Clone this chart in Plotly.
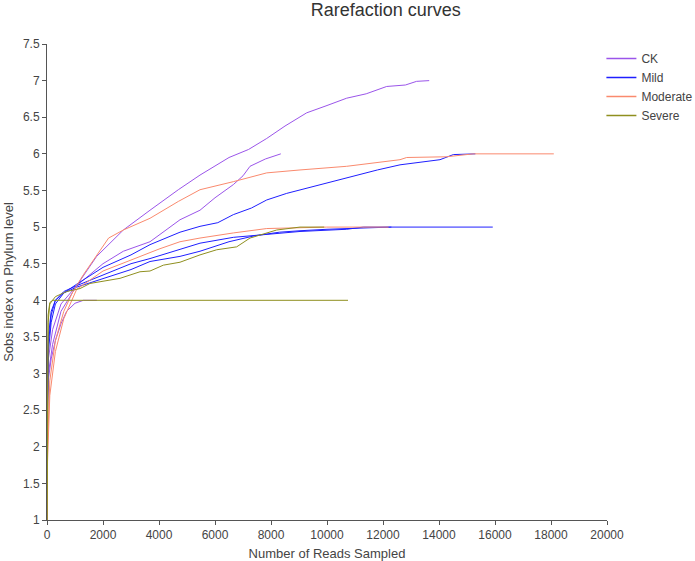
import plotly.graph_objects as go

# reads sampled / Sobs (phylum), one pair of lists per sample
ck1_x = [0, 10, 50, 200, 500, 1060, 1774, 2726, 3679, 4200, 4690, 5464, 6000, 6500, 7200, 7846, 8500, 9274, 10000, 10702, 11400, 12131, 12800, 13200, 13650]
ck1_y = [1, 2.3, 3.2, 3.6, 3.95, 4.2, 4.6, 4.96, 5.23, 5.38, 5.51, 5.71, 5.84, 5.95, 6.06, 6.21, 6.38, 6.56, 6.66, 6.76, 6.82, 6.92, 6.94, 6.99, 7.0]
ck2_x = [0, 10, 50, 200, 500, 1060, 2000, 2726, 3679, 4200, 4750, 5464, 6000, 6655, 7000, 7250, 7800, 8350]
ck2_y = [1, 2.2, 3.0, 3.4, 3.85, 4.2, 4.5, 4.67, 4.8, 4.95, 5.1, 5.23, 5.4, 5.58, 5.7, 5.83, 5.93, 6.0]
ck3_x = [0, 15, 60, 150, 300, 500, 700, 1000, 1300, 1780]
ck3_y = [1, 2.5, 2.95, 3.2, 3.45, 3.68, 3.85, 3.96, 4.0, 4.0]

mild1_x = [0, 10, 50, 150, 300, 600, 1060, 2000, 3000, 3679, 4750, 5464, 6100, 6655, 7300, 7846, 8560, 9750, 10800, 11800, 12607, 14036, 14512, 15300]
mild1_y = [1, 2.5, 3.3, 3.7, 3.95, 4.1, 4.22, 4.45, 4.62, 4.76, 4.93, 5.01, 5.06, 5.17, 5.26, 5.37, 5.46, 5.58, 5.68, 5.78, 5.85, 5.92, 5.99, 6.0]
mild2_x = [0, 10, 50, 150, 300, 600, 1060, 2000, 3000, 3679, 4750, 5464, 6655, 7846, 9036, 10702, 11300, 15920]
mild2_y = [1, 2.8, 3.5, 3.85, 4.0, 4.12, 4.2, 4.35, 4.5, 4.57, 4.69, 4.78, 4.86, 4.9, 4.94, 4.97, 5.0, 5.0]
mild3_x = [0, 10, 50, 150, 300, 600, 1060, 2000, 3000, 3679, 4750, 5464, 6500, 7400, 8300, 9036, 10000, 11500, 12300]
mild3_y = [1, 2.6, 3.4, 3.8, 4.0, 4.1, 4.18, 4.3, 4.42, 4.53, 4.6, 4.67, 4.8, 4.88, 4.93, 4.95, 4.97, 4.99, 5.0]

mod1_x = [0, 20, 100, 300, 600, 900, 1300, 1774, 2200, 2726, 3679, 4690, 5464, 6655, 7846, 9036, 10702, 12607, 12845, 14274, 15226, 18100]
mod1_y = [1, 2.0, 2.9, 3.45, 3.85, 4.1, 4.35, 4.62, 4.85, 4.96, 5.12, 5.35, 5.51, 5.62, 5.74, 5.78, 5.83, 5.92, 5.95, 5.96, 6.0, 6.0]
mod2_x = [0, 20, 100, 300, 600, 900, 1060, 2000, 3000, 4000, 4750, 5464, 6655, 7846, 9988, 12200]
mod2_y = [1, 1.8, 2.7, 3.3, 3.75, 4.0, 4.15, 4.4, 4.55, 4.7, 4.8, 4.85, 4.92, 4.98, 5.0, 5.0]

sev1_x = [0, 10, 40, 100, 300, 700, 1179, 1536, 2607, 3321, 3679, 4155, 4750, 5464, 6060, 6774, 7250, 8202, 9036, 9900]
sev1_y = [1, 2.8, 3.7, 3.95, 4.05, 4.12, 4.16, 4.23, 4.3, 4.39, 4.4, 4.48, 4.52, 4.62, 4.69, 4.73, 4.85, 4.96, 5.0, 5.0]
sev2_x = [0, 10, 40, 100, 200, 10750]
sev2_y = [1, 3.0, 3.8, 3.97, 4.0, 4.0]

groups = ['CK', 'Mild', 'Moderate', 'Severe']
colors = {'CK': '#9b55ea', 'Mild': '#1f1fff', 'Moderate': '#fa8a6e', 'Severe': '#8f8f1f'}
samples = [
    ('CK', ck1_x, ck1_y), ('CK', ck2_x, ck2_y), ('CK', ck3_x, ck3_y),
    ('Mild', mild1_x, mild1_y), ('Mild', mild2_x, mild2_y), ('Mild', mild3_x, mild3_y),
    ('Moderate', mod1_x, mod1_y), ('Moderate', mod2_x, mod2_y),
    ('Severe', sev1_x, sev1_y), ('Severe', sev2_x, sev2_y),
]

fig = go.Figure()
for group, xs, ys in samples:
    fig.add_trace(go.Scatter(
        x=xs, y=ys, mode='lines', name=group, showlegend=False,
        line=dict(color=colors[group], width=1)
    ))

# one legend entry per group
for group in groups:
    fig.add_trace(go.Scatter(
        x=[None], y=[None], mode='lines', name=group,
        line=dict(color=colors[group], width=1.5)
    ))

fig.update_layout(
    width=695, height=561,
    margin=dict(l=47, r=88, t=44, b=41, autoexpand=False),
    paper_bgcolor='white', plot_bgcolor='white',
    font=dict(family='Liberation Sans, Arial, sans-serif', size=12, color='#444'),
    title=dict(text='Rarefaction curves', x=0.555, xanchor='center', y=0.994, yanchor='top',
               font=dict(size=18, color='#333')),
    legend=dict(x=0.99, xanchor='left', y=1.0, yanchor='top', bgcolor='rgba(0,0,0,0)',
                font=dict(size=12, color='#444'), tracegroupgap=0),
    showlegend=True,
)
fig.update_xaxes(
    range=[0, 20000], dtick=2000, tick0=0, tickformat='d', showgrid=False, zeroline=False,
    showline=True, linecolor='#555', linewidth=1, ticks='outside', ticklen=4, tickcolor='#555',
    automargin=False, tickfont=dict(size=12),
    title=dict(text='Number of Reads Sampled', font=dict(size=13), standoff=8)
)
fig.update_yaxes(
    range=[1, 7.5], dtick=0.5, tick0=1, showgrid=False, zeroline=False,
    showline=True, linecolor='#555', linewidth=1, ticks='outside', ticklen=4, tickcolor='#555',
    automargin=False, tickfont=dict(size=12),
    title=dict(text='Sobs index on Phylum level', font=dict(size=13), standoff=6)
)

# page body has a default 8px margin; drop it so the figure sits at the window corner
fig.write_html('out.html', config={'displayModeBar': False},
               post_script="document.body.style.margin='0';")
